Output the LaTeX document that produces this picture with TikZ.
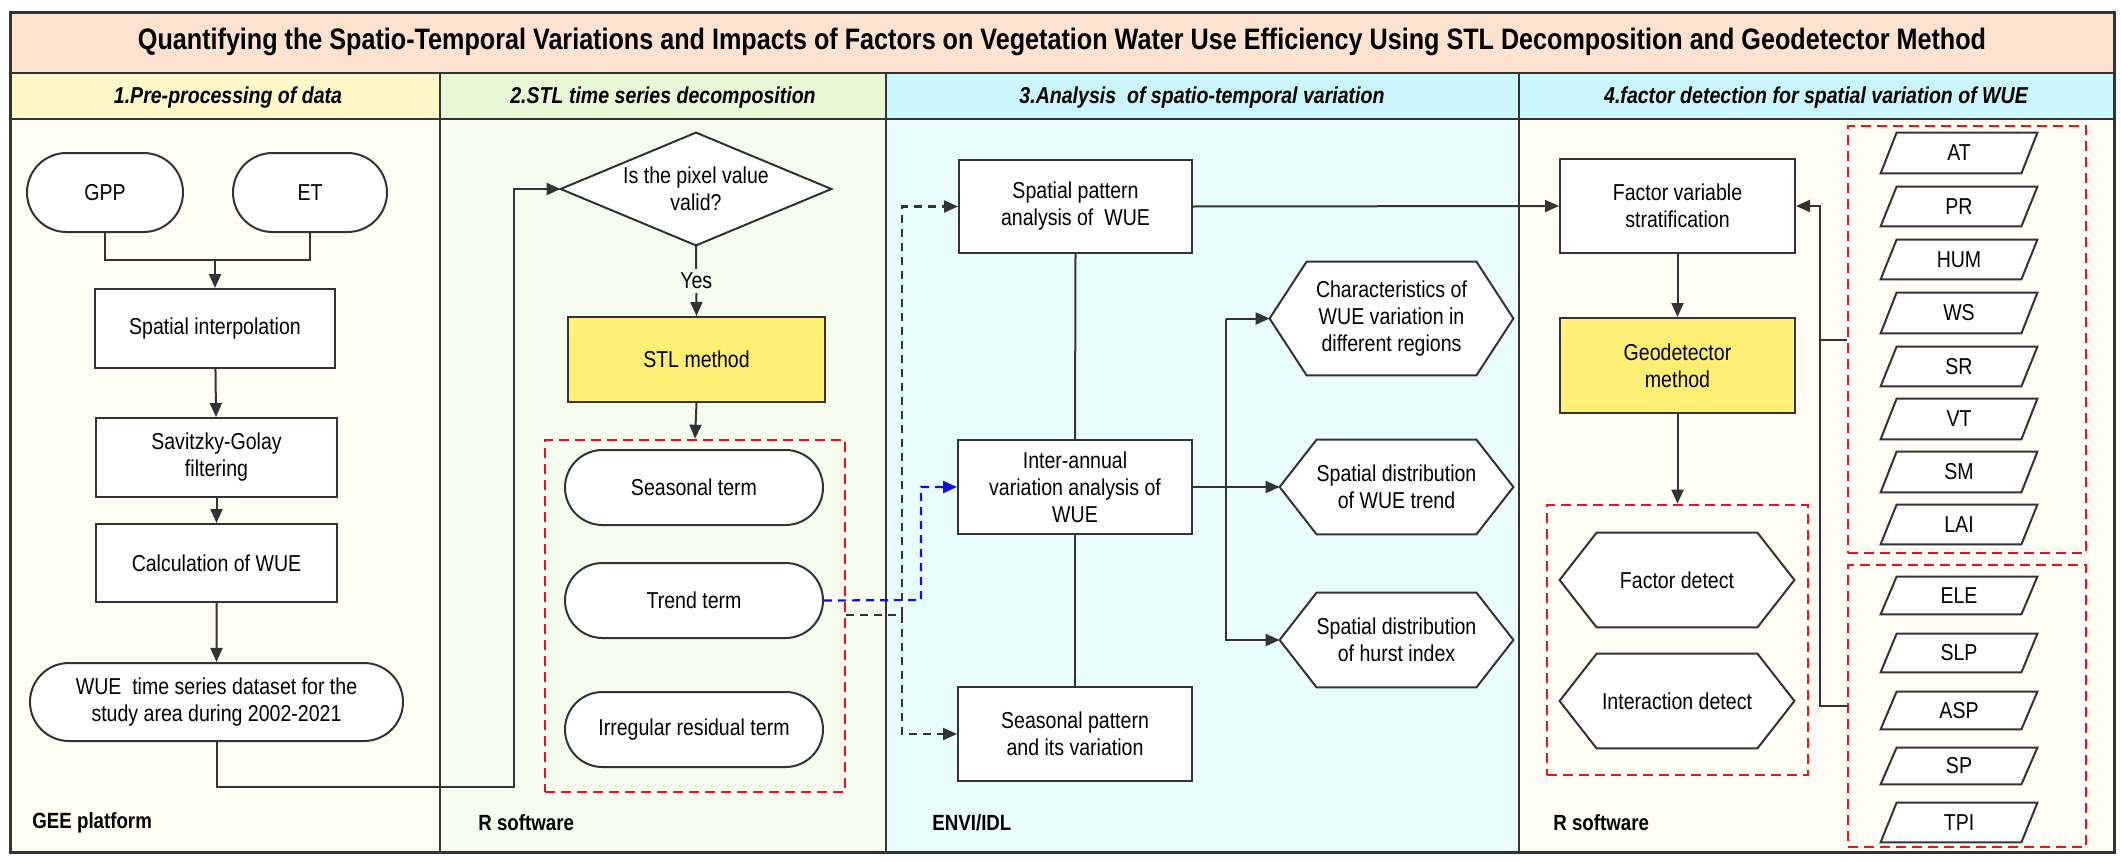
\documentclass[tikz,border=0pt]{standalone}
\usepackage{fontspec}
\setmainfont{Liberation Sans}[FakeStretch=0.85]
\usetikzlibrary{shapes.misc,shapes.geometric,arrows.meta}
\pgfdeclarelayer{bg}\pgfdeclarelayer{mid}\pgfsetlayers{bg,mid,main}
\definecolor{lc}{HTML}{333333}
\definecolor{titlef}{HTML}{FCE2CF}
\definecolor{h1}{HTML}{FFF9C9}
\definecolor{h2}{HTML}{E8F8D6}
\definecolor{h3}{HTML}{C9F5FB}
\definecolor{b1}{HTML}{FFFEF2}
\definecolor{b2}{HTML}{F6FCEE}
\definecolor{b3}{HTML}{EAFDFE}
\definecolor{b4}{HTML}{FFFDF4}
\definecolor{yel}{HTML}{FFEF75}
\definecolor{rd}{HTML}{E3141E}
\definecolor{bl}{HTML}{1010E0}
\newcommand\bx[7][]{\node[#1,minimum width={(#4-#2)*0.5pt},minimum height={(#5-#3)*0.5pt}] (#6) at ({(#2+#4)/2},{(#3+#5)/2}) {#7};}
\newcommand\hexdraw[1]{\begin{pgfonlayer}{mid}\draw[shp] (#1.west) -- ([xshift=18.5pt]#1.north west) -- ([xshift=-18.5pt]#1.north east) -- (#1.east) -- ([xshift=-18.5pt]#1.south east) -- ([xshift=18.5pt]#1.south west) -- cycle;\end{pgfonlayer}}
\newcommand\paradraw[1]{\begin{pgfonlayer}{mid}\draw[shp] ([xshift=8pt]#1.north west) -- (#1.north east) -- ([xshift=-8pt]#1.south east) -- (#1.south west) -- cycle;\end{pgfonlayer}}
\newcommand\diadraw[1]{\begin{pgfonlayer}{mid}\draw[shp] (#1.west) -- (#1.north) -- (#1.east) -- (#1.south) -- cycle;\end{pgfonlayer}}
\tikzset{
  every node/.style={font=\fontsize{11.5}{13.5}\selectfont,align=center,inner sep=0pt},
  shp/.style={draw=lc,line width=1pt,fill=white},
  box/.style={shp},
  rr/.style={shp,rounded rectangle},
  ybox/.style={draw=lc,line width=1pt,fill=yel},
  plain/.style={},
  ln/.style={draw=lc,line width=1pt},
  arr/.style={ln,-{Triangle[length=7pt,width=6pt]}},
  dsh/.style={draw=lc,line width=1.1pt,dash pattern=on 4pt off 3pt},
  darr/.style={dsh,-{Triangle[length=7pt,width=6pt]}},
  bdarr/.style={draw=bl,line width=1.1pt,dash pattern=on 4pt off 3pt,-{Triangle[length=7pt,width=6pt]}},
  red/.style={draw=rd,line width=1.3pt,dash pattern=on 5pt off 3pt},
  hd/.style={font=\fontsize{11.5}{13}\selectfont\bfseries\itshape},
  ft/.style={font=\fontsize{11}{13}\selectfont\bfseries,anchor=west},
}
\begin{document}
\begin{tikzpicture}[x=0.5pt,y=-0.5pt]
\useasboundingbox (0,0) rectangle (2121,862);
\begin{pgfonlayer}{bg}
\fill[white] (0,0) rectangle (2121,862);
\fill[titlef] (10,12) rectangle (2114,73);
\fill[h1] (10,73) rectangle (440,119);
\fill[h2] (440,73) rectangle (886,119);
\fill[h3] (886,73) rectangle (2114,119);
\fill[b1] (10,119) rectangle (440,852);
\fill[b2] (440,119) rectangle (886,852);
\fill[b3] (886,119) rectangle (1519,852);
\fill[b4] (1519,119) rectangle (2114,852);
\draw[lc,line width=1.5pt] (10,12) rectangle (2114,852);
\draw[lc,line width=1.3pt] (10,73) -- (2114,73) (10,119) -- (2114,119);
\draw[lc,line width=1pt] (440,73) -- (440,852) (886,73) -- (886,852) (1519,73) -- (1519,852);
\end{pgfonlayer}
\node[font=\fontsize{14.8}{16}\selectfont\bfseries] (title) at (1062,42) {Quantifying the Spatio-Temporal Variations and Impacts of Factors on Vegetation Water Use Efficiency Using STL Decomposition and Geodetector Method};
\node[hd] (hA) at (228,98) {1.Pre-processing of data};
\node[hd] (hB) at (663,98) {2.STL time series decomposition};
\node[hd] (hC) at (1202,98) {3.Analysis\ \ of spatio-temporal variation};
\node[hd] (hD) at (1816,98) {4.factor detection for spatial variation of WUE};
% column 1
\bx[rr]{27}{153}{183}{232}{gpp}{GPP}
\bx[rr]{233}{153}{387}{232}{et}{ET}
\bx[box]{95}{289}{335}{368}{interp}{Spatial interpolation}
\bx[box]{96}{418}{337}{497}{sg}{Savitzky-Golay\\filtering}
\bx[box]{96}{524}{337}{602}{calc}{Calculation of WUE}
\bx[rr]{30}{663}{403}{741}{wue}{WUE\ \ time series dataset for the\\study area during 2002-2021}
\node[ft] (l1) at (32,823) {GEE platform};
% column 2
\bx[plain]{561}{133}{831}{245}{dia}{Is the pixel value\\valid?}
\diadraw{dia}
\bx[ybox]{568}{317}{825}{402}{stl}{STL method}
\bx[red]{545}{440}{845}{792}{rbox}{}
\bx[rr]{565}{450}{823}{525}{seas}{Seasonal term}
\bx[rr]{565}{563}{823}{638}{trend}{Trend term}
\bx[rr]{565}{692}{823}{767}{irr}{Irregular residual term}
\node[ft] (l2) at (478,823) {R software};
% column 3
\bx[box]{959}{160}{1192}{253}{sp}{Spatial pattern\\analysis of\ \ WUE}
\bx[box]{958}{440}{1192}{534}{ia}{Inter-annual\\variation analysis of\\WUE}
\bx[box]{958}{687}{1192}{781}{spv}{Seasonal pattern\\and its variation}
\bx[plain]{1270}{262}{1513}{375}{hchar}{Characteristics of\\WUE variation in\\different regions}
\hexdraw{hchar}
\bx[plain]{1280}{440}{1513}{534}{htr}{Spatial distribution\\of WUE trend}
\hexdraw{htr}
\bx[plain]{1280}{593}{1513}{687}{hhu}{Spatial distribution\\of hurst index}
\hexdraw{hhu}
\node[ft] (l3) at (932,823) {ENVI/IDL};
% column 4
\bx[box]{1560}{159}{1795}{253}{fvs}{Factor variable\\stratification}
\bx[ybox]{1560}{318}{1795}{413}{geo}{Geodetector\\method}
\bx[red]{1547}{505}{1808}{775}{rbox3}{}
\bx[plain]{1560}{533}{1794}{627}{fd}{Factor detect}
\hexdraw{fd}
\bx[plain]{1560}{654}{1794}{748}{idt}{Interaction detect}
\hexdraw{idt}
\node[ft] (l4) at (1553,823) {R software};
\bx[red]{1848}{126}{2086}{553}{rA}{}
\bx[red]{1848}{565}{2086}{847}{rB}{}
\bx[plain]{1881}{133}{2037}{173}{pAT}{AT}\paradraw{pAT}
\bx[plain]{1881}{187}{2037}{226}{pPR}{PR}\paradraw{pPR}
\bx[plain]{1881}{240}{2037}{279}{pHUM}{HUM}\paradraw{pHUM}
\bx[plain]{1881}{293}{2037}{333}{pWS}{WS}\paradraw{pWS}
\bx[plain]{1881}{347}{2037}{386}{pSR}{SR}\paradraw{pSR}
\bx[plain]{1881}{399}{2037}{439}{pVT}{VT}\paradraw{pVT}
\bx[plain]{1881}{452}{2037}{492}{pSM}{SM}\paradraw{pSM}
\bx[plain]{1881}{505}{2037}{544}{pLAI}{LAI}\paradraw{pLAI}
\bx[plain]{1881}{577}{2037}{614}{pELE}{ELE}\paradraw{pELE}
\bx[plain]{1881}{634}{2037}{672}{pSLP}{SLP}\paradraw{pSLP}
\bx[plain]{1881}{692}{2037}{729}{pASP}{ASP}\paradraw{pASP}
\bx[plain]{1881}{748}{2037}{784}{pSP}{SP}\paradraw{pSP}
\bx[plain]{1881}{803}{2037}{842}{pTPI}{TPI}\paradraw{pTPI}
% connectors
\coordinate (j1) at (215,260);
\draw[ln] (gpp.south) |- (j1);
\draw[ln] (et.south) |- (j1);
\draw[arr] (j1) -- (interp.north);
\draw[arr] (interp) -- (sg);
\draw[arr] (sg) -- (calc);
\draw[arr] (calc) -- (wue);
\coordinate (c1) at (514,787);
\draw[arr] (wue.south) |- (c1) |- (dia.west);
\draw[arr] (dia.south) -- node[fill=b2,inner sep=2pt,pos=0.5]{Yes} (stl.north);
\draw[arr] (stl.south) -- (rbox.north);
\coordinate (k1) at (902,615);
\draw[dsh] (rbox.east |- k1) -- (k1);
\draw[darr] (k1) |- (sp.west);
\draw[darr] (k1) |- (spv.west);
\coordinate (k2) at (921,600);
\draw[bdarr] (trend.east) -- (k2) |- (ia.west);
\draw[ln] (sp.south) -- (ia.north);
\draw[ln] (ia.south) -- (spv.north);
\draw[arr] (ia.east) -- (htr.west);
\coordinate (b1) at (1226,318.5);
\draw[arr] (b1) -- (hchar.west);
\draw[arr] (b1) |- (hhu.west);
\draw[arr] (sp.east) -- (fvs.west);
\draw[arr] (fvs) -- (geo);
\draw[arr] (geo.south) -- (rbox3.north);
\coordinate (k3) at (1820,340);
\coordinate (k4) at (1820,706);
\draw[ln] (rA.west |- k3) -- (k3);
\draw[arr] (rB.west |- k4) -- (k4) |- (fvs.east);
\end{tikzpicture}
\end{document}
